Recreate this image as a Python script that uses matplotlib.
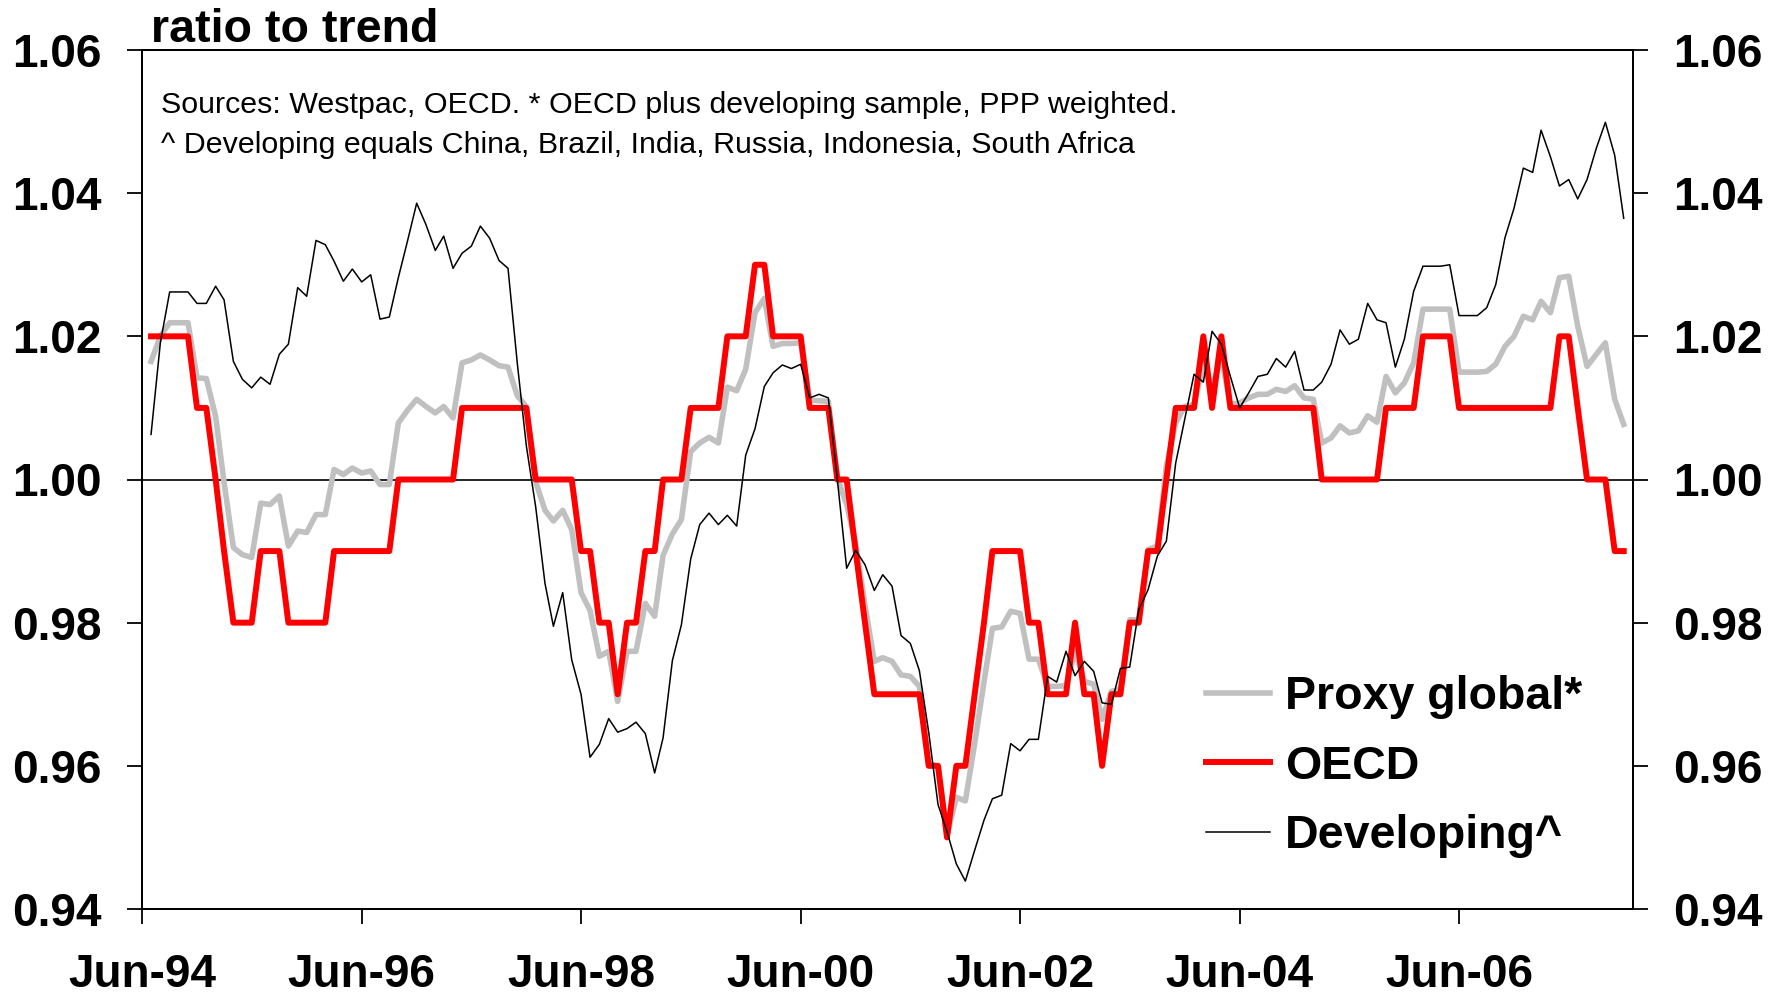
import matplotlib
matplotlib.use("Agg")
import matplotlib.pyplot as plt
import pandas as pd

# monthly, Jul-94 .. Dec-07
months = pd.date_range("1994-07-01", periods=162, freq="MS")

proxy_global = [
    1.0165, 1.0200, 1.0219, 1.0219, 1.0219, 1.0142, 1.0141, 1.0088, 0.9996, 0.9905, 0.9895, 0.9891,
    0.9967, 0.9965, 0.9977, 0.9907, 0.9928, 0.9926, 0.9951, 0.9951, 1.0014, 1.0007, 1.0016, 1.0009,
    1.0012, 0.9993, 0.9993, 1.0079, 1.0097, 1.0112, 1.0102, 1.0093, 1.0102, 1.0086, 1.0163, 1.0167,
    1.0174, 1.0167, 1.0159, 1.0157, 1.0117, 1.0102, 0.9997, 0.9957, 0.9942, 0.9957, 0.9930, 0.9842,
    0.9817, 0.9753, 0.9760, 0.9690, 0.9760, 0.9760, 0.9827, 0.9809, 0.9894, 0.9924, 0.9944, 1.0039,
    1.0051, 1.0059, 1.0051, 1.0129, 1.0124, 1.0154, 1.0233, 1.0253, 1.0186, 1.0190, 1.0190, 1.0191,
    1.0111, 1.0110, 1.0109, 1.0002, 0.9965, 0.9910, 0.9825, 0.9746, 0.9751, 0.9746, 0.9727, 0.9725,
    0.9711, 0.9604, 0.9599, 0.9503, 0.9556, 0.9551, 0.9631, 0.9717, 0.9792, 0.9794, 0.9816, 0.9813,
    0.9749, 0.9749, 0.9711, 0.9711, 0.9712, 0.9760, 0.9718, 0.9714, 0.9665, 0.9704, 0.9707, 0.9804,
    0.9804, 0.9902, 0.9907, 1.0019, 1.0079, 1.0102, 1.0105, 1.0160, 1.0130, 1.0170, 1.0105, 1.0107,
    1.0114, 1.0119, 1.0119, 1.0126, 1.0123, 1.0131, 1.0114, 1.0112, 1.0051, 1.0058, 1.0075, 1.0065,
    1.0068, 1.0089, 1.0080, 1.0144, 1.0121, 1.0135, 1.0163, 1.0238, 1.0238, 1.0238, 1.0238, 1.0150,
    1.0150, 1.0150, 1.0151, 1.0161, 1.0186, 1.0200, 1.0228, 1.0223, 1.0249, 1.0233, 1.0282, 1.0284,
    1.0214, 1.0158, 1.0175, 1.0191, 1.0112, 1.0077,
]

oecd = [
    1.02, 1.02, 1.02, 1.02, 1.02, 1.01, 1.01, 1.00, 0.99, 0.98, 0.98, 0.98,
    0.99, 0.99, 0.99, 0.98, 0.98, 0.98, 0.98, 0.98, 0.99, 0.99, 0.99, 0.99,
    0.99, 0.99, 0.99, 1.00, 1.00, 1.00, 1.00, 1.00, 1.00, 1.00, 1.01, 1.01,
    1.01, 1.01, 1.01, 1.01, 1.01, 1.01, 1.00, 1.00, 1.00, 1.00, 1.00, 0.99,
    0.99, 0.98, 0.98, 0.97, 0.98, 0.98, 0.99, 0.99, 1.00, 1.00, 1.00, 1.01,
    1.01, 1.01, 1.01, 1.02, 1.02, 1.02, 1.03, 1.03, 1.02, 1.02, 1.02, 1.02,
    1.01, 1.01, 1.01, 1.00, 1.00, 0.99, 0.98, 0.97, 0.97, 0.97, 0.97, 0.97,
    0.97, 0.96, 0.96, 0.95, 0.96, 0.96, 0.97, 0.98, 0.99, 0.99, 0.99, 0.99,
    0.98, 0.98, 0.97, 0.97, 0.97, 0.98, 0.97, 0.97, 0.96, 0.97, 0.97, 0.98,
    0.98, 0.99, 0.99, 1.00, 1.01, 1.01, 1.01, 1.02, 1.01, 1.02, 1.01, 1.01,
    1.01, 1.01, 1.01, 1.01, 1.01, 1.01, 1.01, 1.01, 1.00, 1.00, 1.00, 1.00,
    1.00, 1.00, 1.00, 1.01, 1.01, 1.01, 1.01, 1.02, 1.02, 1.02, 1.02, 1.01,
    1.01, 1.01, 1.01, 1.01, 1.01, 1.01, 1.01, 1.01, 1.01, 1.01, 1.02, 1.02,
    1.01, 1.00, 1.00, 1.00, 0.99, 0.99,
]

developing = [
    1.0063, 1.0191, 1.0262, 1.0262, 1.0262, 1.0246, 1.0246, 1.0270, 1.0251, 1.0165, 1.0140, 1.0128,
    1.0143, 1.0133, 1.0175, 1.0189, 1.0268, 1.0256, 1.0334, 1.0328, 1.0305, 1.0277, 1.0294, 1.0276,
    1.0286, 1.0224, 1.0227, 1.0282, 1.0334, 1.0386, 1.0356, 1.0320, 1.0340, 1.0295, 1.0316, 1.0326,
    1.0354, 1.0337, 1.0306, 1.0295, 1.0162, 1.0047, 0.9962, 0.9855, 0.9795, 0.9842, 0.9748, 0.9700,
    0.9612, 0.9630, 0.9666, 0.9647, 0.9652, 0.9661, 0.9645, 0.9590, 0.9639, 0.9747, 0.9797, 0.9889,
    0.9937, 0.9953, 0.9937, 0.9950, 0.9935, 1.0034, 1.0071, 1.0130, 1.0149, 1.0160, 1.0155, 1.0161,
    1.0114, 1.0119, 1.0114, 1.0000, 0.9876, 0.9901, 0.9881, 0.9845, 0.9867, 0.9851, 0.9782, 0.9771,
    0.9733, 0.9647, 0.9546, 0.9508, 0.9463, 0.9439, 0.9482, 0.9524, 0.9554, 0.9559, 0.9631, 0.9621,
    0.9637, 0.9637, 0.9725, 0.9717, 0.9760, 0.9726, 0.9746, 0.9732, 0.9688, 0.9686, 0.9736, 0.9738,
    0.9818, 0.9846, 0.9893, 0.9914, 1.0023, 1.0084, 1.0147, 1.0136, 1.0207, 1.0189, 1.0144, 1.0100,
    1.0121, 1.0144, 1.0147, 1.0169, 1.0157, 1.0179, 1.0125, 1.0125, 1.0136, 1.0161, 1.0209, 1.0189,
    1.0196, 1.0246, 1.0223, 1.0219, 1.0157, 1.0196, 1.0263, 1.0298, 1.0298, 1.0298, 1.0300, 1.0229,
    1.0229, 1.0229, 1.0240, 1.0272, 1.0338, 1.0379, 1.0435, 1.0429, 1.0488, 1.0451, 1.0410, 1.0419,
    1.0392, 1.0419, 1.0463, 1.0499, 1.0453, 1.0365,
]

x_ticks = pd.to_datetime(["1994-06-01", "1996-06-01", "1998-06-01", "2000-06-01",
                          "2002-06-01", "2004-06-01", "2006-06-01"])
x_labels = ["Jun-94", "Jun-96", "Jun-98", "Jun-00", "Jun-02", "Jun-04", "Jun-06"]
y_ticks = [0.94, 0.96, 0.98, 1.00, 1.02, 1.04, 1.06]
y_labels = ["0.94", "0.96", "0.98", "1.00", "1.02", "1.04", "1.06"]

plt.rcParams["font.family"] = ["Liberation Sans", "DejaVu Sans"]

fig = plt.figure(figsize=(17.82, 10), dpi=100)
ax = fig.add_axes([0.0797, 0.091, 0.8367, 0.859])

ax.axhline(1.0, color="black", lw=1.2, zorder=1)
ax.plot(months, proxy_global, color="#C0C0C0", lw=4.0, label="Proxy global*", zorder=2)
ax.plot(months, oecd, color="#FF0000", lw=4.3, label="OECD", zorder=3)
ax.plot(months, developing, color="black", lw=1.1, label="Developing^", zorder=4)

ax.set_xlim(pd.Timestamp("1994-06-01"), pd.Timestamp("2008-01-01"))
ax.set_ylim(0.94, 1.06)
ax.set_xticks(x_ticks)
ax.set_xticklabels(x_labels, fontsize=33, fontweight="bold")
ax.set_yticks(y_ticks)
ax.set_yticklabels(y_labels, fontsize=33, fontweight="bold")
ax.tick_params(axis="y", direction="out", length=11, width=1.3, pad=18)
ax.tick_params(axis="x", direction="out", length=11, width=1.3, pad=21)
for s in ax.spines.values():
    s.set_linewidth(1.4)

ax2 = ax.twinx()
ax2.set_ylim(0.94, 1.06)
ax2.set_yticks(y_ticks)
ax2.set_yticklabels(y_labels, fontsize=33, fontweight="bold")
ax2.tick_params(axis="y", direction="out", length=11, width=1.3, pad=18)
for s in ax2.spines.values():
    s.set_linewidth(1.4)

fig.text(151 / 1782, 1 - 42 / 1000, "ratio to trend", fontsize=33.5,
         fontweight="bold", va="baseline", ha="left")
fig.text(161 / 1782, 1 - 113 / 1000,
         "Sources: Westpac, OECD. * OECD plus developing sample, PPP weighted.",
         fontsize=21.9, va="baseline", ha="left")
fig.text(161 / 1782, 1 - 153 / 1000,
         "^ Developing equals China, Brazil, India, Russia, Indonesia, South Africa",
         fontsize=21.9, va="baseline", ha="left")

ax.legend(loc="upper left", bbox_to_anchor=(0.677, 0.325), bbox_transform=fig.transFigure,
          frameon=False, prop={"weight": "bold", "size": 33.5},
          handlelength=1.37, handletextpad=0.32, labelspacing=0.55,
          borderpad=0, borderaxespad=0)

fig.savefig("out.png", dpi=100)
